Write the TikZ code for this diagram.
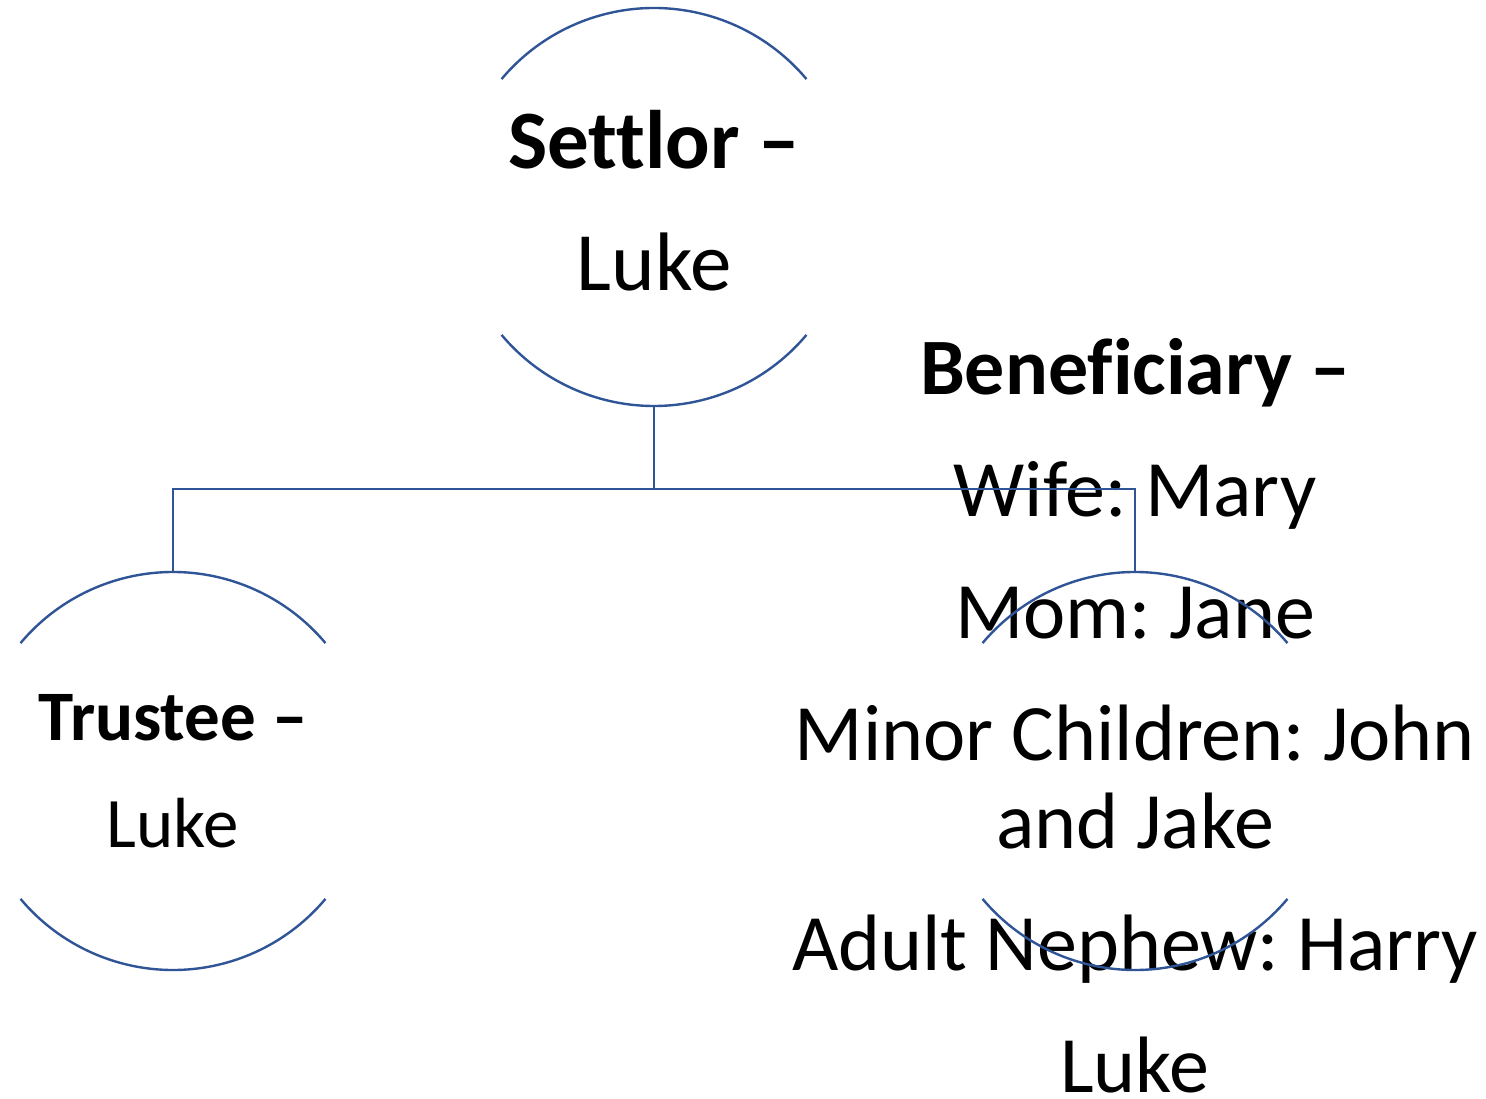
\documentclass[tikz,border=0pt]{standalone}
\usepackage{fontspec}
\setmainfont{Carlito}[Ligatures={NoCommon}]
\frenchspacing
\definecolor{ringblue}{RGB}{47,85,151}

\begin{document}
\begin{tikzpicture}[x=0.5pt, y=0.5pt, main/.style = {circle, minimum size=199pt, inner sep=0pt, outer sep=0pt, align=center}, ring/.style = {draw=ringblue, line width=1.2pt}]
		\useasboundingbox (0,0) rectangle (1486,1098);
		\node[main, text depth=7pt, font=\fontsize{41.5}{61}\selectfont] (1) at (654,891) {\textbf{Settlor –}\\Luke};
		\node[main, font=\fontsize{35.5}{53.5}\selectfont] (2) at (173,327) {\textbf{Trustee –}\\Luke};
		\node[main] (3) at (1135,327) {};
		\node[align=center, inner sep=0pt, font=\fontsize{40}{44}\selectfont] (4) at (1135,382) {\textbf{Beneficiary –}\\[17pt] Wife: Mary\\[17pt] Mom: Jane\\[17pt] Minor Children: John\\ and Jake\\[17pt] Adult Nephew: Harry\\[17pt] Luke};
		\foreach \n in {1,2,3} {
			\draw[ring] (\n.40) arc[start angle=40, end angle=140, radius=99.5pt];
			\draw[ring] (\n.-140) arc[start angle=-140, end angle=-40, radius=99.5pt];
		}
		\coordinate (h) at (654,609);
		\draw[ring] (1) -- (h) -| (2);
		\draw[ring] (h) -| (3);
	\end{tikzpicture}
\end{document}
